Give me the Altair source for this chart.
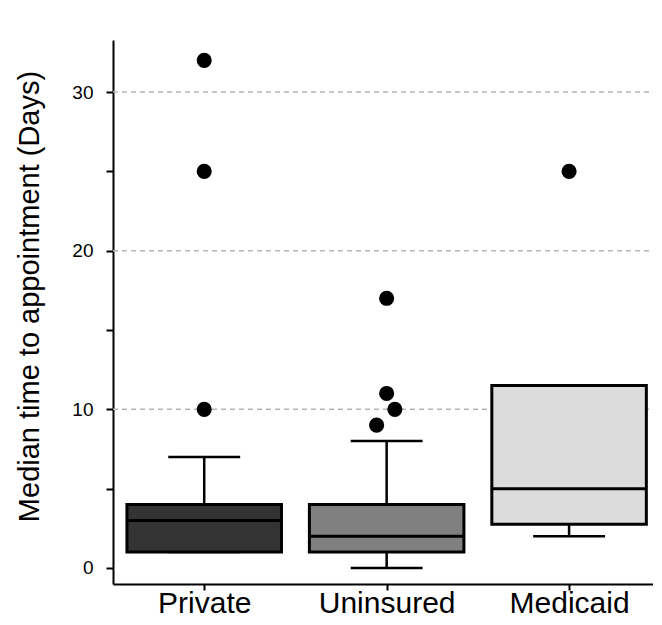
import altair as alt
import pandas as pd

# ---- data ----
categories = ["Private", "Uninsured", "Medicaid"]
q1 = [1.0, 1.0, 2.75]
median = [3.0, 2.0, 5.0]
q3 = [4.0, 4.0, 11.5]
whisker_low = [1.0, 0.0, 2.0]
whisker_high = [7.0, 8.0, 11.5]
box_fill = ["#333333", "#808080", "#dcdcdc"]

outlier_group = ["Private", "Private", "Private", "Uninsured", "Uninsured", "Uninsured", "Uninsured", "Medicaid"]
outlier_value = [10, 25, 32, 9, 10, 11, 17, 25]
outlier_dodge = [0, 0, 0, -0.055, 0.045, 0, 0, 0]

grid_values = [10, 20, 30]

# ---- tables ----
BOX_HALF = 0.4235
CAP_HALF = 0.197
boxes = pd.DataFrame({
    "cat": categories,
    "pos": [i + 1 for i in range(len(categories))],
    "q1": q1, "median": median, "q3": q3,
    "lo": whisker_low, "hi": whisker_high, "fill": box_fill,
})
boxes["bx1"] = boxes["pos"] - BOX_HALF
boxes["bx2"] = boxes["pos"] + BOX_HALF
boxes["cx1"] = boxes["pos"] - CAP_HALF
boxes["cx2"] = boxes["pos"] + CAP_HALF

outl = pd.DataFrame({"cat": outlier_group, "value": outlier_value, "dodge": outlier_dodge})
outl["pos"] = outl["cat"].map({c: i + 1 for i, c in enumerate(categories)}) + outl["dodge"]

grid = pd.DataFrame({"v": grid_values})

FONT = "Liberation Sans"
label_expr = "[" + ",".join(f"'{c}'" for c in categories) + "][datum.value-1]"

xscale = alt.Scale(domain=[0.5, 3.46], nice=False, zero=False)
yscale = alt.Scale(domain=[-1.01, 33.28], nice=False, zero=False)

xaxis = alt.Axis(values=[1, 2, 3], labelExpr=label_expr, title=None, grid=False,
                 domainColor="black", domainWidth=2, tickColor="black", tickWidth=2,
                 tickSize=6, labelFontSize=30, labelFont=FONT, labelColor="black",
                 labelBaseline="alphabetic", labelPadding=22)
yaxis = alt.Axis(values=[0, 5, 10, 15, 20, 25, 30],
                 labelExpr="datum.value % 10 == 0 ? datum.label : ''",
                 title="Median time to appointment (Days)", grid=False,
                 domainColor="black", domainWidth=2, tickColor="black", tickWidth=2,
                 tickSize=7, labelFontSize=19, labelFont=FONT, labelColor="black",
                 labelPadding=13, titleFontSize=29, titleFont=FONT, titleFontWeight="normal",
                 titleColor="black", titleX=-84, titleY=256, titleAngle=270,
                 titleAlign="center", titleBaseline="middle")

base_axes = alt.Chart(grid).mark_rule(color="#b5b5b5", strokeWidth=1.5, strokeDash=[5, 4]).encode(
    x=alt.value(0), x2=alt.value(540),
    y=alt.Y("v:Q", scale=yscale, axis=yaxis),
)

xaxis_layer = alt.Chart(boxes).mark_point(opacity=0).encode(
    x=alt.X("pos:Q", scale=xscale, axis=xaxis),
    y=alt.Y("median:Q", scale=yscale),
)

whisker = alt.Chart(boxes).mark_rule(color="black", strokeWidth=2.5).encode(
    x=alt.X("pos:Q", scale=xscale), y=alt.Y("lo:Q", scale=yscale), y2="hi:Q",
)
caps_lo = alt.Chart(boxes).mark_rule(color="black", strokeWidth=2.5).encode(
    x=alt.X("cx1:Q", scale=xscale), x2="cx2:Q", y=alt.Y("lo:Q", scale=yscale),
)
caps_hi = alt.Chart(boxes).mark_rule(color="black", strokeWidth=2.5).encode(
    x=alt.X("cx1:Q", scale=xscale), x2="cx2:Q", y=alt.Y("hi:Q", scale=yscale),
)
box = alt.Chart(boxes).mark_rect(stroke="black", strokeWidth=3).encode(
    x=alt.X("bx1:Q", scale=xscale), x2="bx2:Q",
    y=alt.Y("q1:Q", scale=yscale), y2="q3:Q",
    fill=alt.Fill("fill:N", scale=None),
)
med = alt.Chart(boxes).mark_rule(color="black", strokeWidth=3).encode(
    x=alt.X("bx1:Q", scale=xscale), x2="bx2:Q", y=alt.Y("median:Q", scale=yscale),
)
points = alt.Chart(outl).mark_circle(color="black", opacity=1, size=230).encode(
    x=alt.X("pos:Q", scale=xscale), y=alt.Y("value:Q", scale=yscale),
)

chart = alt.layer(base_axes, xaxis_layer, whisker, caps_lo, caps_hi, box, med, points).properties(
    width=540, height=544,
    background="white",
    autosize=alt.AutoSizeParams(type="none"),
    padding={"left": 105, "top": 32, "right": 0, "bottom": 33},
).configure_view(stroke=None, strokeWidth=0)

chart.save("out.html", embed_options={"renderer": "svg", "actions": False})
